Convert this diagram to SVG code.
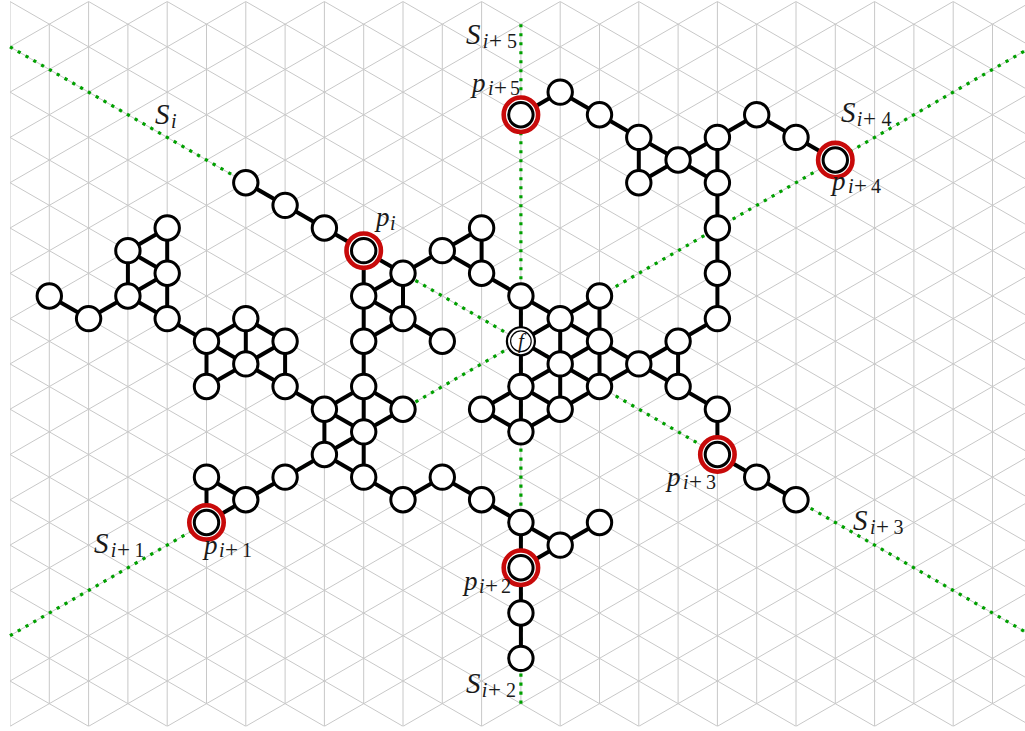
<svg xmlns="http://www.w3.org/2000/svg" width="1025" height="731" viewBox="0 0 1025 731">
<style>
.grid{fill:none;stroke:#c8c8c8;stroke-width:1}
.dots{fill:none;stroke:#00a000;stroke-width:3.2;stroke-dasharray:3.2 5.8}
#connectors path{fill:none;stroke:#000;stroke-width:4}
.n{fill:#fff;stroke:#000;stroke-width:3}
.ring{fill:#fff;stroke:#c80a0a;stroke-width:4.6}
.f1{fill:#fff;stroke:#000;stroke-width:2.2}
.f2{fill:#fff;stroke:#000;stroke-width:1.2}
text{font-family:"Liberation Serif","Times New Roman",serif;font-style:italic;font-size:29px;fill:#1a1a1a}
.P{font-size:27px}
.s{font-size:20px}
.u{font-size:20px;font-style:normal}
.w{font-size:23px;font-style:normal}
</style>
<defs><clipPath id="gc"><rect x="10" y="1.5" width="1015" height="724.8"/></clipPath></defs>
<g id="grid" clip-path="url(#gc)">
<path class="grid" d="M10 1.5V726.3M49.3 24.15V703.65M88.6 1.5V726.3M127.9 24.15V703.65M167.2 1.5V726.3M206.5 24.15V703.65M245.8 1.5V726.3M285.1 24.15V703.65M324.4 1.5V726.3M363.7 24.15V703.65M403 1.5V726.3M442.3 24.15V703.65M481.6 1.5V726.3M520.9 24.15V703.65M560.2 1.5V726.3M599.5 24.15V703.65M638.8 1.5V726.3M678.1 24.15V703.65M717.4 1.5V726.3M756.7 24.15V703.65M796 1.5V726.3M835.3 24.15V703.65M874.6 1.5V726.3M913.9 24.15V703.65M953.2 1.5V726.3M992.5 24.15V703.65"/>
<path class="grid" d="M10 -587.4l1021.8 588.9M10 -542.1l1021.8 588.9M10 -496.8l1021.8 588.9M10 -451.5l1021.8 588.9M10 -406.2l1021.8 588.9M10 -360.9l1021.8 588.9M10 -315.6l1021.8 588.9M10 -270.3l1021.8 588.9M10 -225l1021.8 588.9M10 -179.7l1021.8 588.9M10 -134.4l1021.8 588.9M10 -89.1l1021.8 588.9M10 -43.8l1021.8 588.9M10 1.5l1021.8 588.9M10 46.8l1021.8 588.9M10 92.1l1021.8 588.9M10 137.4l1021.8 588.9M10 182.7l1021.8 588.9M10 228l1021.8 588.9M10 273.3l1021.8 588.9M10 318.6l1021.8 588.9M10 363.9l1021.8 588.9M10 409.2l1021.8 588.9M10 454.5l1021.8 588.9M10 499.8l1021.8 588.9M10 545.1l1021.8 588.9M10 590.4l1021.8 588.9M10 635.7l1021.8 588.9M10 681l1021.8 588.9M10 726.3l1021.8 588.9"/>
<path class="grid" d="M10 1.5l1021.8 -588.9M10 46.8l1021.8 -588.9M10 92.1l1021.8 -588.9M10 137.4l1021.8 -588.9M10 182.7l1021.8 -588.9M10 228l1021.8 -588.9M10 273.3l1021.8 -588.9M10 318.6l1021.8 -588.9M10 363.9l1021.8 -588.9M10 409.2l1021.8 -588.9M10 454.5l1021.8 -588.9M10 499.8l1021.8 -588.9M10 545.1l1021.8 -588.9M10 590.4l1021.8 -588.9M10 635.7l1021.8 -588.9M10 681l1021.8 -588.9M10 726.3l1021.8 -588.9M10 771.6l1021.8 -588.9M10 816.9l1021.8 -588.9M10 862.2l1021.8 -588.9M10 907.5l1021.8 -588.9M10 952.8l1021.8 -588.9M10 998.1l1021.8 -588.9M10 1043.4l1021.8 -588.9M10 1088.7l1021.8 -588.9M10 1134l1021.8 -588.9M10 1179.3l1021.8 -588.9M10 1224.6l1021.8 -588.9M10 1269.9l1021.8 -588.9M10 1315.2l1021.8 -588.9"/>
</g>
<g id="sectors">
<path class="dots" d="M10 46.8L520.9 341.25"/>
<path class="dots" d="M10 635.7L520.9 341.25"/>
<path class="dots" d="M520.9 24.15V341.25"/>
<path class="dots" d="M520.9 703.65V341.25"/>
<path class="dots" d="M1031.8 46.8L520.9 341.25"/>
<path class="dots" d="M1031.8 635.7L520.9 341.25"/>
</g>
<g id="connectors">
<path d="M520.9 114.75L560.2 92.1"/>
<path d="M560.2 92.1L599.5 114.75"/>
<path d="M599.5 114.75L638.8 137.4"/>
<path d="M638.8 137.4L638.8 182.7"/>
<path d="M638.8 137.4L678.1 160.05"/>
<path d="M638.8 182.7L678.1 160.05"/>
<path d="M678.1 160.05L717.4 137.4"/>
<path d="M678.1 160.05L717.4 182.7"/>
<path d="M717.4 137.4L717.4 182.7"/>
<path d="M717.4 137.4L756.7 114.75"/>
<path d="M756.7 114.75L796 137.4"/>
<path d="M796 137.4L835.3 160.05"/>
<path d="M717.4 182.7L717.4 228"/>
<path d="M717.4 228L717.4 273.3"/>
<path d="M717.4 273.3L717.4 318.6"/>
<path d="M717.4 318.6L678.1 341.25"/>
<path d="M678.1 341.25L638.8 363.9"/>
<path d="M678.1 341.25L678.1 386.55"/>
<path d="M638.8 363.9L678.1 386.55"/>
<path d="M678.1 386.55L717.4 409.2"/>
<path d="M717.4 409.2L717.4 454.5"/>
<path d="M717.4 454.5L756.7 477.15"/>
<path d="M756.7 477.15L796 499.8"/>
<path d="M638.8 363.9L599.5 341.25"/>
<path d="M638.8 363.9L599.5 386.55"/>
<path d="M599.5 341.25L599.5 295.95"/>
<path d="M599.5 295.95L560.2 318.6"/>
<path d="M560.2 318.6L520.9 295.95"/>
<path d="M560.2 318.6L599.5 341.25"/>
<path d="M560.2 318.6L560.2 363.9"/>
<path d="M520.9 341.25L560.2 318.6"/>
<path d="M520.9 341.25L560.2 363.9"/>
<path d="M520.9 295.95L520.9 341.25"/>
<path d="M560.2 363.9L599.5 341.25"/>
<path d="M599.5 341.25L599.5 386.55"/>
<path d="M560.2 363.9L599.5 386.55"/>
<path d="M560.2 363.9L560.2 409.2"/>
<path d="M560.2 363.9L520.9 386.55"/>
<path d="M520.9 341.25L520.9 386.55"/>
<path d="M520.9 386.55L560.2 409.2"/>
<path d="M560.2 409.2L599.5 386.55"/>
<path d="M520.9 386.55L520.9 431.85"/>
<path d="M520.9 386.55L481.6 409.2"/>
<path d="M481.6 409.2L520.9 431.85"/>
<path d="M520.9 431.85L560.2 409.2"/>
<path d="M520.9 295.95L481.6 273.3"/>
<path d="M481.6 273.3L481.6 228"/>
<path d="M481.6 273.3L442.3 250.65"/>
<path d="M442.3 250.65L481.6 228"/>
<path d="M442.3 250.65L403 273.3"/>
<path d="M403 273.3L363.7 250.65"/>
<path d="M363.7 250.65L324.4 228"/>
<path d="M324.4 228L285.1 205.35"/>
<path d="M285.1 205.35L245.8 182.7"/>
<path d="M363.7 250.65L363.7 295.95"/>
<path d="M403 273.3L363.7 295.95"/>
<path d="M403 273.3L403 318.6"/>
<path d="M363.7 295.95L403 318.6"/>
<path d="M363.7 295.95L363.7 341.25"/>
<path d="M403 318.6L363.7 341.25"/>
<path d="M403 318.6L442.3 341.25"/>
<path d="M363.7 341.25L363.7 386.55"/>
<path d="M363.7 386.55L324.4 409.2"/>
<path d="M363.7 386.55L403 409.2"/>
<path d="M363.7 386.55L363.7 431.85"/>
<path d="M403 409.2L363.7 431.85"/>
<path d="M363.7 431.85L324.4 409.2"/>
<path d="M363.7 431.85L324.4 454.5"/>
<path d="M363.7 431.85L363.7 477.15"/>
<path d="M324.4 409.2L324.4 454.5"/>
<path d="M324.4 454.5L363.7 477.15"/>
<path d="M324.4 454.5L285.1 477.15"/>
<path d="M285.1 477.15L245.8 499.8"/>
<path d="M245.8 499.8L206.5 477.15"/>
<path d="M245.8 499.8L206.5 522.45"/>
<path d="M206.5 477.15L206.5 522.45"/>
<path d="M363.7 477.15L403 499.8"/>
<path d="M403 499.8L442.3 477.15"/>
<path d="M442.3 477.15L481.6 499.8"/>
<path d="M481.6 499.8L520.9 522.45"/>
<path d="M520.9 522.45L520.9 567.75"/>
<path d="M520.9 522.45L560.2 545.1"/>
<path d="M560.2 545.1L520.9 567.75"/>
<path d="M560.2 545.1L599.5 522.45"/>
<path d="M520.9 567.75L520.9 613.05"/>
<path d="M520.9 613.05L520.9 658.35"/>
<path d="M324.4 409.2L285.1 386.55"/>
<path d="M285.1 386.55L285.1 341.25"/>
<path d="M285.1 341.25L245.8 318.6"/>
<path d="M285.1 341.25L245.8 363.9"/>
<path d="M245.8 318.6L245.8 363.9"/>
<path d="M285.1 386.55L245.8 363.9"/>
<path d="M245.8 318.6L206.5 341.25"/>
<path d="M245.8 363.9L206.5 341.25"/>
<path d="M206.5 341.25L206.5 386.55"/>
<path d="M206.5 386.55L245.8 363.9"/>
<path d="M206.5 341.25L167.2 318.6"/>
<path d="M167.2 318.6L167.2 273.3"/>
<path d="M167.2 273.3L167.2 228"/>
<path d="M167.2 318.6L127.9 295.95"/>
<path d="M127.9 295.95L167.2 273.3"/>
<path d="M127.9 295.95L127.9 250.65"/>
<path d="M127.9 250.65L167.2 228"/>
<path d="M127.9 250.65L167.2 273.3"/>
<path d="M127.9 295.95L88.6 318.6"/>
<path d="M88.6 318.6L49.3 295.95"/>
</g>
<g id="nodes">
<g id="n-14-4"><circle class="n" cx="560.2" cy="92.1" r="12.2"/></g>
<g id="n-15-5"><circle class="n" cx="599.5" cy="114.75" r="12.2"/></g>
<g id="n-16-6"><circle class="n" cx="638.8" cy="137.4" r="12.2"/></g>
<g id="n-16-8"><circle class="n" cx="638.8" cy="182.7" r="12.2"/></g>
<g id="n-17-7"><circle class="n" cx="678.1" cy="160.05" r="12.2"/></g>
<g id="n-18-6"><circle class="n" cx="717.4" cy="137.4" r="12.2"/></g>
<g id="n-18-8"><circle class="n" cx="717.4" cy="182.7" r="12.2"/></g>
<g id="n-19-5"><circle class="n" cx="756.7" cy="114.75" r="12.2"/></g>
<g id="n-20-6"><circle class="n" cx="796" cy="137.4" r="12.2"/></g>
<g id="n-18-10"><circle class="n" cx="717.4" cy="228" r="12.2"/></g>
<g id="n-18-12"><circle class="n" cx="717.4" cy="273.3" r="12.2"/></g>
<g id="n-18-14"><circle class="n" cx="717.4" cy="318.6" r="12.2"/></g>
<g id="n-17-15"><circle class="n" cx="678.1" cy="341.25" r="12.2"/></g>
<g id="n-17-17"><circle class="n" cx="678.1" cy="386.55" r="12.2"/></g>
<g id="n-16-16"><circle class="n" cx="638.8" cy="363.9" r="12.2"/></g>
<g id="n-18-18"><circle class="n" cx="717.4" cy="409.2" r="12.2"/></g>
<g id="n-19-21"><circle class="n" cx="756.7" cy="477.15" r="12.2"/></g>
<g id="n-20-22"><circle class="n" cx="796" cy="499.8" r="12.2"/></g>
<g id="n-15-13"><circle class="n" cx="599.5" cy="295.95" r="12.2"/></g>
<g id="n-15-15"><circle class="n" cx="599.5" cy="341.25" r="12.2"/></g>
<g id="n-15-17"><circle class="n" cx="599.5" cy="386.55" r="12.2"/></g>
<g id="n-14-14"><circle class="n" cx="560.2" cy="318.6" r="12.2"/></g>
<g id="n-14-16"><circle class="n" cx="560.2" cy="363.9" r="12.2"/></g>
<g id="n-14-18"><circle class="n" cx="560.2" cy="409.2" r="12.2"/></g>
<g id="n-13-13"><circle class="n" cx="520.9" cy="295.95" r="12.2"/></g>
<g id="n-13-17"><circle class="n" cx="520.9" cy="386.55" r="12.2"/></g>
<g id="n-13-19"><circle class="n" cx="520.9" cy="431.85" r="12.2"/></g>
<g id="n-12-18"><circle class="n" cx="481.6" cy="409.2" r="12.2"/></g>
<g id="n-12-12"><circle class="n" cx="481.6" cy="273.3" r="12.2"/></g>
<g id="n-12-10"><circle class="n" cx="481.6" cy="228" r="12.2"/></g>
<g id="n-11-11"><circle class="n" cx="442.3" cy="250.65" r="12.2"/></g>
<g id="n-10-12"><circle class="n" cx="403" cy="273.3" r="12.2"/></g>
<g id="n-8-10"><circle class="n" cx="324.4" cy="228" r="12.2"/></g>
<g id="n-7-9"><circle class="n" cx="285.1" cy="205.35" r="12.2"/></g>
<g id="n-6-8"><circle class="n" cx="245.8" cy="182.7" r="12.2"/></g>
<g id="n-9-13"><circle class="n" cx="363.7" cy="295.95" r="12.2"/></g>
<g id="n-10-14"><circle class="n" cx="403" cy="318.6" r="12.2"/></g>
<g id="n-11-15"><circle class="n" cx="442.3" cy="341.25" r="12.2"/></g>
<g id="n-9-15"><circle class="n" cx="363.7" cy="341.25" r="12.2"/></g>
<g id="n-9-17"><circle class="n" cx="363.7" cy="386.55" r="12.2"/></g>
<g id="n-10-18"><circle class="n" cx="403" cy="409.2" r="12.2"/></g>
<g id="n-8-18"><circle class="n" cx="324.4" cy="409.2" r="12.2"/></g>
<g id="n-9-19"><circle class="n" cx="363.7" cy="431.85" r="12.2"/></g>
<g id="n-8-20"><circle class="n" cx="324.4" cy="454.5" r="12.2"/></g>
<g id="n-9-21"><circle class="n" cx="363.7" cy="477.15" r="12.2"/></g>
<g id="n-10-22"><circle class="n" cx="403" cy="499.8" r="12.2"/></g>
<g id="n-11-21"><circle class="n" cx="442.3" cy="477.15" r="12.2"/></g>
<g id="n-12-22"><circle class="n" cx="481.6" cy="499.8" r="12.2"/></g>
<g id="n-13-23"><circle class="n" cx="520.9" cy="522.45" r="12.2"/></g>
<g id="n-14-24"><circle class="n" cx="560.2" cy="545.1" r="12.2"/></g>
<g id="n-15-23"><circle class="n" cx="599.5" cy="522.45" r="12.2"/></g>
<g id="n-13-27"><circle class="n" cx="520.9" cy="613.05" r="12.2"/></g>
<g id="n-13-29"><circle class="n" cx="520.9" cy="658.35" r="12.2"/></g>
<g id="n-7-17"><circle class="n" cx="285.1" cy="386.55" r="12.2"/></g>
<g id="n-7-15"><circle class="n" cx="285.1" cy="341.25" r="12.2"/></g>
<g id="n-6-14"><circle class="n" cx="245.8" cy="318.6" r="12.2"/></g>
<g id="n-6-16"><circle class="n" cx="245.8" cy="363.9" r="12.2"/></g>
<g id="n-5-15"><circle class="n" cx="206.5" cy="341.25" r="12.2"/></g>
<g id="n-5-17"><circle class="n" cx="206.5" cy="386.55" r="12.2"/></g>
<g id="n-4-14"><circle class="n" cx="167.2" cy="318.6" r="12.2"/></g>
<g id="n-4-12"><circle class="n" cx="167.2" cy="273.3" r="12.2"/></g>
<g id="n-4-10"><circle class="n" cx="167.2" cy="228" r="12.2"/></g>
<g id="n-3-11"><circle class="n" cx="127.9" cy="250.65" r="12.2"/></g>
<g id="n-3-13"><circle class="n" cx="127.9" cy="295.95" r="12.2"/></g>
<g id="n-2-14"><circle class="n" cx="88.6" cy="318.6" r="12.2"/></g>
<g id="n-1-13"><circle class="n" cx="49.3" cy="295.95" r="12.2"/></g>
<g id="n-7-21"><circle class="n" cx="285.1" cy="477.15" r="12.2"/></g>
<g id="n-6-22"><circle class="n" cx="245.8" cy="499.8" r="12.2"/></g>
<g id="n-5-21"><circle class="n" cx="206.5" cy="477.15" r="12.2"/></g>
<g id="p-i"><circle class="ring" cx="363.7" cy="250.65" r="17.2"/><circle class="n" cx="363.7" cy="250.65" r="12.2"/></g>
<g id="p-i1"><circle class="ring" cx="206.5" cy="522.45" r="17.2"/><circle class="n" cx="206.5" cy="522.45" r="12.2"/></g>
<g id="p-i2"><circle class="ring" cx="520.9" cy="567.75" r="17.2"/><circle class="n" cx="520.9" cy="567.75" r="12.2"/></g>
<g id="p-i3"><circle class="ring" cx="717.4" cy="454.5" r="17.2"/><circle class="n" cx="717.4" cy="454.5" r="12.2"/></g>
<g id="p-i4"><circle class="ring" cx="835.3" cy="160.05" r="17.2"/><circle class="n" cx="835.3" cy="160.05" r="12.2"/></g>
<g id="p-i5"><circle class="ring" cx="520.9" cy="114.75" r="17.2"/><circle class="n" cx="520.9" cy="114.75" r="12.2"/></g>
<g id="f"><circle class="f1" cx="520.9" cy="341.25" r="14"/><circle class="f2" cx="520.9" cy="341.25" r="10.3"/><text x="520.9" y="347.5" text-anchor="middle" style="font-size:21px">f</text></g>
</g>
<g id="labels">
<text x="155" y="124">S<tspan class="s" x="171" y="127.5">i</tspan></text>
<text x="466" y="44">S<tspan class="s" x="482.7" y="48">i</tspan><tspan class="w" x="489">+</tspan><tspan class="u" x="507">5</tspan></text>
<text x="841" y="121.7">S<tspan class="s" x="856.7" y="125.7">i</tspan><tspan class="w" x="863">+</tspan><tspan class="u" x="881.5">4</tspan></text>
<text x="853" y="530">S<tspan class="s" x="870" y="534">i</tspan><tspan class="w" x="876">+</tspan><tspan class="u" x="893.5">3</tspan></text>
<text x="466" y="693">S<tspan class="s" x="481.7" y="697">i</tspan><tspan class="w" x="488">+</tspan><tspan class="u" x="506">2</tspan></text>
<text x="94" y="552.7">S<tspan class="s" x="110.7" y="557">i</tspan><tspan class="w" x="117">+</tspan><tspan class="u" x="134.5">1</tspan></text>
<text class="P" x="376" y="226">p<tspan class="s" x="390" y="230">i</tspan></text>
<text class="P" x="472" y="92">p<tspan class="s" x="488" y="95">i</tspan><tspan class="w" x="494">+</tspan><tspan class="u" x="510">5</tspan></text>
<text class="P" x="832" y="190">p<tspan class="s" x="848" y="193">i</tspan><tspan class="w" x="854">+</tspan><tspan class="u" x="871">4</tspan></text>
<text class="P" x="667" y="486">p<tspan class="s" x="683" y="489">i</tspan><tspan class="w" x="689">+</tspan><tspan class="u" x="706">3</tspan></text>
<text class="P" x="464" y="590">p<tspan class="s" x="479" y="593">i</tspan><tspan class="w" x="485">+</tspan><tspan class="u" x="501">2</tspan></text>
<text class="P" x="204" y="554">p<tspan class="s" x="219" y="557">i</tspan><tspan class="w" x="225">+</tspan><tspan class="u" x="242">1</tspan></text>
</g>
</svg>
